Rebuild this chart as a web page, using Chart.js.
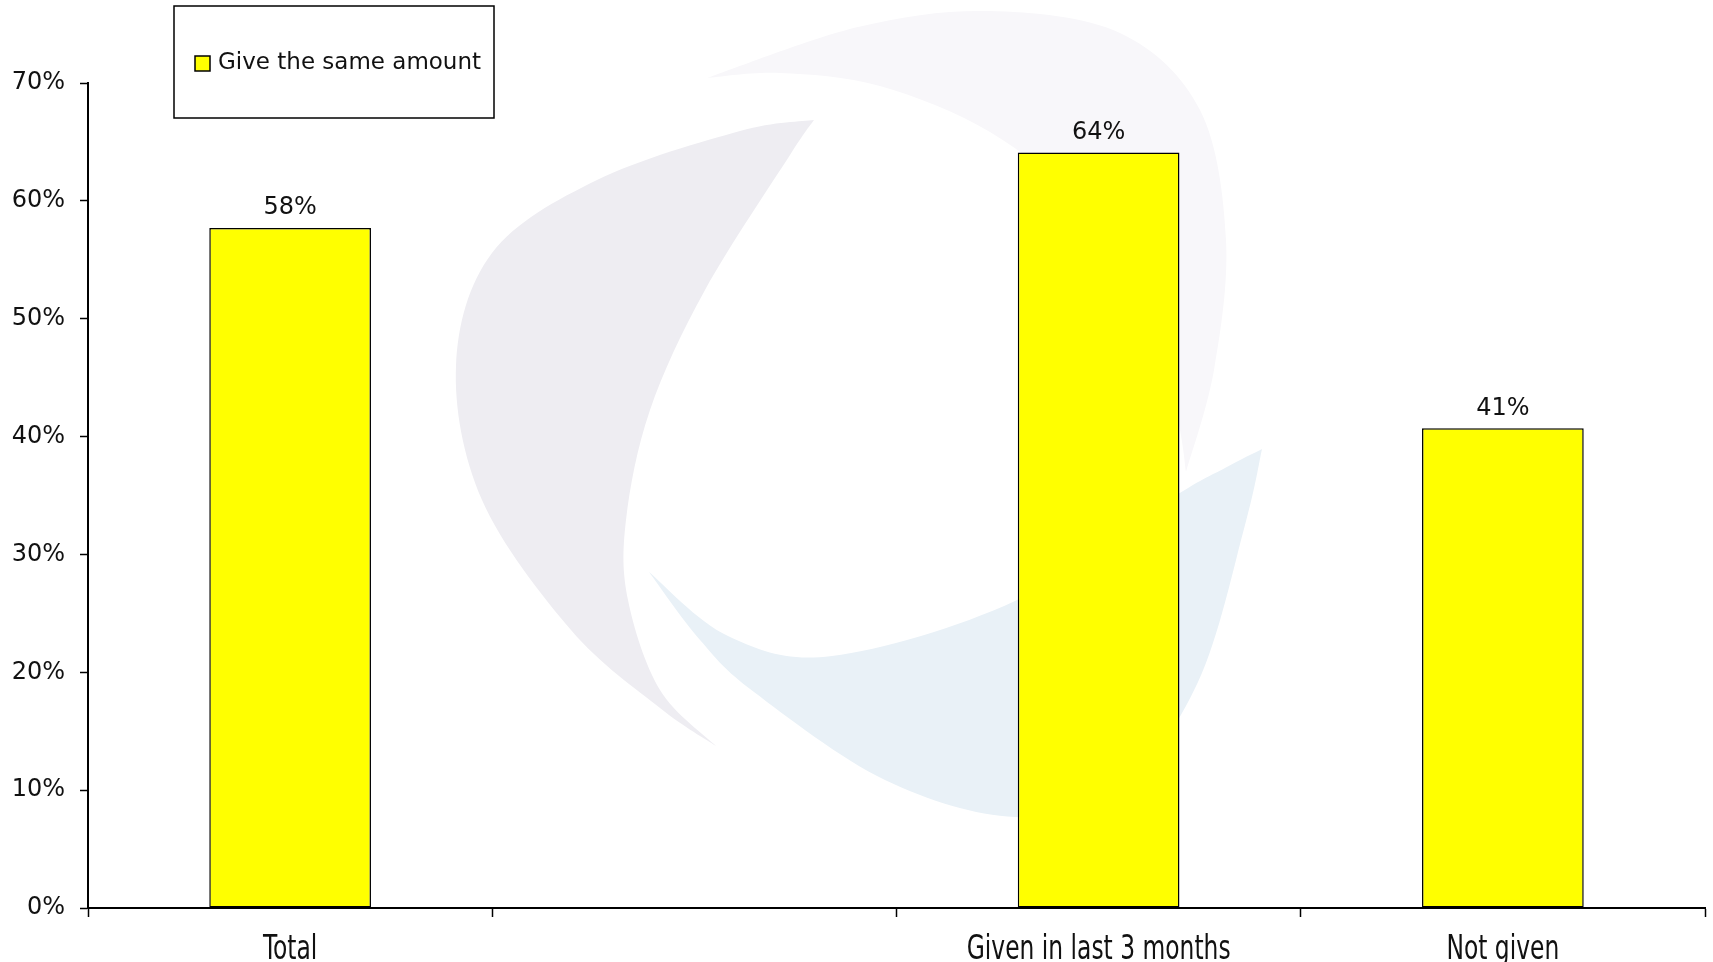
<!DOCTYPE html>
<html>
<head>
<meta charset="utf-8">
<script src="https://cdn.jsdelivr.net/npm/chart.js@4"></script>
<style>
  html, body { margin: 0; padding: 0; background: #fff; }
  #wrap { width: 1713px; height: 962px; position: relative; }
</style>
</head>
<body>
<div id="wrap"><canvas id="grafico"></canvas></div>
<script>
// bar chart: share who give the same amount, by group

const categorias = ['Total', '', 'Given in last 3 months', 'Not given'];
const valores = [57.7, null, 64.1, 40.7];
const rotuloSerie = 'Give the same amount';
const ticksY = [0, 10, 20, 30, 40, 50, 60, 70];

const COR_BARRA = '#ffff00';
const FONTE = '"DejaVu Sans", Verdana, sans-serif';
const FONTE_ESTREITA = '"DejaVu Sans Condensed", "Liberation Sans Narrow", sans-serif';

// faint swirl logo behind the plot: each crescent = outer edge (tip to tip) + inner edge (back)
const MARCA_DAGUA = [
  {
    cor: '#f8f7fa',
    externa: [[707, 78], [858, 27], [989, 11], [1120, 33], [1200, 110], [1226, 240], [1214, 370], [1186, 472]],
    interna: [[1186, 472], [1178, 420], [1150, 300], [1080, 205], [990, 132], [880, 86], [780, 73], [707, 78]]
  },
  {
    cor: '#eeedf2',
    externa: [[814, 120], [740, 131], [597, 180], [492, 253], [456, 366], [482, 500], [571, 630], [660, 708], [716, 746]],
    interna: [[716, 746], [660, 690], [628, 600], [626, 520], [650, 410], [705, 290], [790, 155], [814, 120]]
  },
  {
    cor: '#e9f1f7',
    externa: [[649, 572], [700, 640], [754, 692], [885, 780], [1015, 817], [1120, 790], [1198, 682], [1245, 525], [1262, 449]],
    interna: [[1262, 449], [1225, 468], [1172, 498], [1015, 601], [832, 656], [728, 636], [649, 572]]
  }
];

// Catmull-Rom through the points, so the edge passes through every point
function curvaSuave(ctx, pts, inicio) {
  if (inicio) ctx.moveTo(pts[0][0], pts[0][1]);
  for (let i = 0; i < pts.length - 1; i++) {
    const p0 = pts[i - 1] || pts[i];
    const p1 = pts[i];
    const p2 = pts[i + 1];
    const p3 = pts[i + 2] || p2;
    ctx.bezierCurveTo(
      p1[0] + (p2[0] - p0[0]) / 6, p1[1] + (p2[1] - p0[1]) / 6,
      p2[0] - (p3[0] - p1[0]) / 6, p2[1] - (p3[1] - p1[1]) / 6,
      p2[0], p2[1]
    );
  }
}

const pluginMarcaDagua = {
  id: 'marcaDagua',
  beforeDatasetsDraw(chart) {
    const ctx = chart.ctx;
    ctx.save();
    MARCA_DAGUA.forEach((forma) => {
      ctx.beginPath();
      curvaSuave(ctx, forma.externa, true);
      curvaSuave(ctx, forma.interna, false);
      ctx.closePath();
      ctx.fillStyle = forma.cor;
      ctx.fill();
    });
    ctx.restore();
  }
};

const pluginRotulos = {
  id: 'rotulosValor',
  afterDatasetsDraw(chart) {
    const ctx = chart.ctx;
    const meta = chart.getDatasetMeta(0);
    ctx.save();
    ctx.font = '24px ' + FONTE;
    ctx.fillStyle = '#111';
    ctx.textAlign = 'center';
    ctx.textBaseline = 'bottom';
    meta.data.forEach((barra, i) => {
      const v = chart.data.datasets[0].data[i];
      if (v == null) return;
      ctx.fillText(Math.round(v) + '%', barra.x, barra.y - 8);
    });
    ctx.restore();
  }
};

// category names: tall narrow lettering, placed on the x scale's tick centres
const pluginCategorias = {
  id: 'rotulosCategoria',
  afterDraw(chart) {
    const ctx = chart.ctx;
    const escala = chart.scales.x;
    ctx.save();
    ctx.font = '26px ' + FONTE_ESTREITA;
    ctx.fillStyle = '#111';
    ctx.textAlign = 'center';
    ctx.textBaseline = 'alphabetic';
    chart.data.labels.forEach((nome, i) => {
      if (!nome) return;
      ctx.save();
      ctx.translate(escala.getPixelForTick(i), 959);
      ctx.scale(1, 1.3);
      ctx.fillText(nome, 0, 0);
      ctx.restore();
    });
    ctx.restore();
  }
};

// boxed legend in the upper left
const pluginLegenda = {
  id: 'legendaCaixa',
  afterDraw(chart) {
    const ctx = chart.ctx;
    const ds = chart.data.datasets[0];
    ctx.save();
    ctx.fillStyle = '#fff';
    ctx.fillRect(174, 6, 320, 112);
    ctx.lineWidth = 1.5;
    ctx.strokeStyle = '#000';
    ctx.strokeRect(174, 6, 320, 112);
    ctx.fillStyle = ds.backgroundColor;
    ctx.fillRect(195, 56, 15, 15);
    ctx.strokeRect(195, 56, 15, 15);
    ctx.fillStyle = '#111';
    ctx.font = '23px ' + FONTE;
    ctx.textBaseline = 'middle';
    ctx.textAlign = 'left';
    ctx.fillText(ds.label, 218, 63);
    ctx.restore();
  }
};

new Chart(document.getElementById('grafico'), {
  type: 'bar',
  data: {
    labels: categorias,
    datasets: [{
      label: rotuloSerie,
      data: valores,
      backgroundColor: COR_BARRA,
      borderColor: '#000',
      borderWidth: 1.5,
      borderSkipped: false,
      categoryPercentage: 1,
      barPercentage: 0.4
    }]
  },
  options: {
    responsive: true,
    maintainAspectRatio: false,
    animation: false,
    layout: { padding: { top: 83, right: 8, bottom: 45, left: 0 } },
    plugins: {
      legend: { display: false },
      tooltip: { enabled: false }
    },
    scales: {
      x: {
        grid: { drawOnChartArea: false, drawTicks: true, tickLength: 9, tickColor: '#000', tickWidth: 1.5, offset: true },
        border: { color: '#000', width: 2 },
        ticks: { display: false, autoSkip: false }
      },
      y: {
        min: 0,
        max: 70,
        afterFit(scale) { scale.width = 88; },
        afterBuildTicks(scale) { scale.ticks = ticksY.map((v) => ({ value: v })); },
        grid: { drawOnChartArea: false, drawTicks: true, tickLength: 8, tickColor: '#000', tickWidth: 1.5 },
        border: { color: '#000', width: 2 },
        ticks: {
          color: '#111',
          padding: 15,
          font: { family: FONTE, size: 24 },
          callback: (v) => v + '%'
        }
      }
    }
  },
  plugins: [pluginMarcaDagua, pluginRotulos, pluginCategorias, pluginLegenda]
});
</script>
</body>
</html>
